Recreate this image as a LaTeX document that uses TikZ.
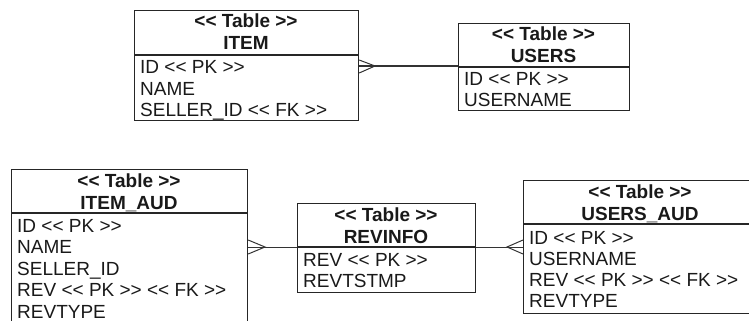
\documentclass[tikz,border=0pt]{standalone}
\usepackage{fontspec}
\setmainfont{Liberation Sans}[Ligatures=TeXOff]
\tikzset{
  tbl/.style={draw=black!85, line width=1.2pt, rectangle, anchor=north west, inner sep=0pt},
  divline/.style={draw=black!85, line width=1.2pt},
  hdr/.style={font=\bfseries\fontsize{19}{21}\selectfont, inner sep=0pt, anchor=base, text=black!90},
  fieldrow/.style={font=\fontsize{19}{21}\selectfont, inner sep=0pt, anchor=base west, text=black!90},
  link/.style={draw=black!80, line width=1pt},
}
\begin{document}
\begin{tikzpicture}[x=1pt, y=-1pt]
\useasboundingbox (0,0) rectangle (749,321);
\clip (0,0) rectangle (749,321);

% ITEM
\node[tbl, minimum width=224pt, minimum height=110pt] (item) at (134,10) {};
\draw[divline] (134,55) -- (358,55);
\node[hdr] (itemh1) at (246,28) {<< Table >>};
\node[hdr] (itemh2) at (246,50) {ITEM};
\node[fieldrow] (itemr1) at (140,74) {ID << PK >>};
\node[fieldrow] (itemr2) at (140,95) {NAME};
\node[fieldrow] (itemr3) at (140,116) {SELLER\_ID << FK >>};

% USERS
\node[tbl, minimum width=171pt, minimum height=87pt] (users) at (458,23) {};
\draw[divline] (458,67) -- (629,67);
\node[hdr] (usersh1) at (543.5,41) {<< Table >>};
\node[hdr] (usersh2) at (543.5,63) {USERS};
\node[fieldrow] (usersr1) at (464,85) {ID << PK >>};
\node[fieldrow] (usersr2) at (464,106) {USERNAME};

% ITEM_AUD
\node[tbl, minimum width=236pt, minimum height=160pt] (itemaud) at (11,169) {};
\draw[divline] (11,213) -- (247,213);
\node[hdr] (itemaudh1) at (129,187) {<< Table >>};
\node[hdr] (itemaudh2) at (129,209) {ITEM\_AUD};
\node[fieldrow] (itemaudr1) at (17,232) {ID << PK >>};
\node[fieldrow] (itemaudr2) at (17,253.5) {NAME};
\node[fieldrow] (itemaudr3) at (17,275) {SELLER\_ID};
\node[fieldrow] (itemaudr4) at (17,296.5) {REV << PK >> << FK >>};
\node[fieldrow] (itemaudr5) at (17,318) {REVTYPE};

% REVINFO
\node[tbl, minimum width=178pt, minimum height=89pt] (revinfo) at (297,203) {};
\draw[divline] (297,247) -- (475,247);
\node[hdr] (revinfoh1) at (386,221) {<< Table >>};
\node[hdr] (revinfoh2) at (386,243) {REVINFO};
\node[fieldrow] (revinfor1) at (303,266) {REV << PK >>};
\node[fieldrow] (revinfor2) at (303,287) {REVTSTMP};

% USERS_AUD
\node[tbl, minimum width=234pt, minimum height=133pt] (usersaud) at (523,180) {};
\draw[divline] (523,224) -- (757,224);
\node[hdr] (usersaudh1) at (640,198) {<< Table >>};
\node[hdr] (usersaudh2) at (640,220) {USERS\_AUD};
\node[fieldrow] (usersaudr1) at (529,244) {ID << PK >>};
\node[fieldrow] (usersaudr2) at (529,265) {USERNAME};
\node[fieldrow] (usersaudr3) at (529,286) {REV << PK >> << FK >>};
\node[fieldrow] (usersaudr4) at (529,307) {REVTYPE};

% connectors
\coordinate (yA) at (0,66);
\coordinate (yB) at (0,247);
\draw[link] (item.east |- yA) -- (users.west |- yA);
\draw[link] (item.east |- 0,60) -- (375,66) -- (item.east |- 0,73);

\draw[link] (itemaud.east |- yB) -- (revinfo.west |- yB);
\draw[link] (itemaud.east |- 0,240) -- (265,247) -- (itemaud.east |- 0,254);

\draw[link] (revinfo.east |- yB) -- (usersaud.west |- yB);
\draw[link] (usersaud.west |- 0,240) -- (507,247) -- (usersaud.west |- 0,254);
\end{tikzpicture}
\end{document}
